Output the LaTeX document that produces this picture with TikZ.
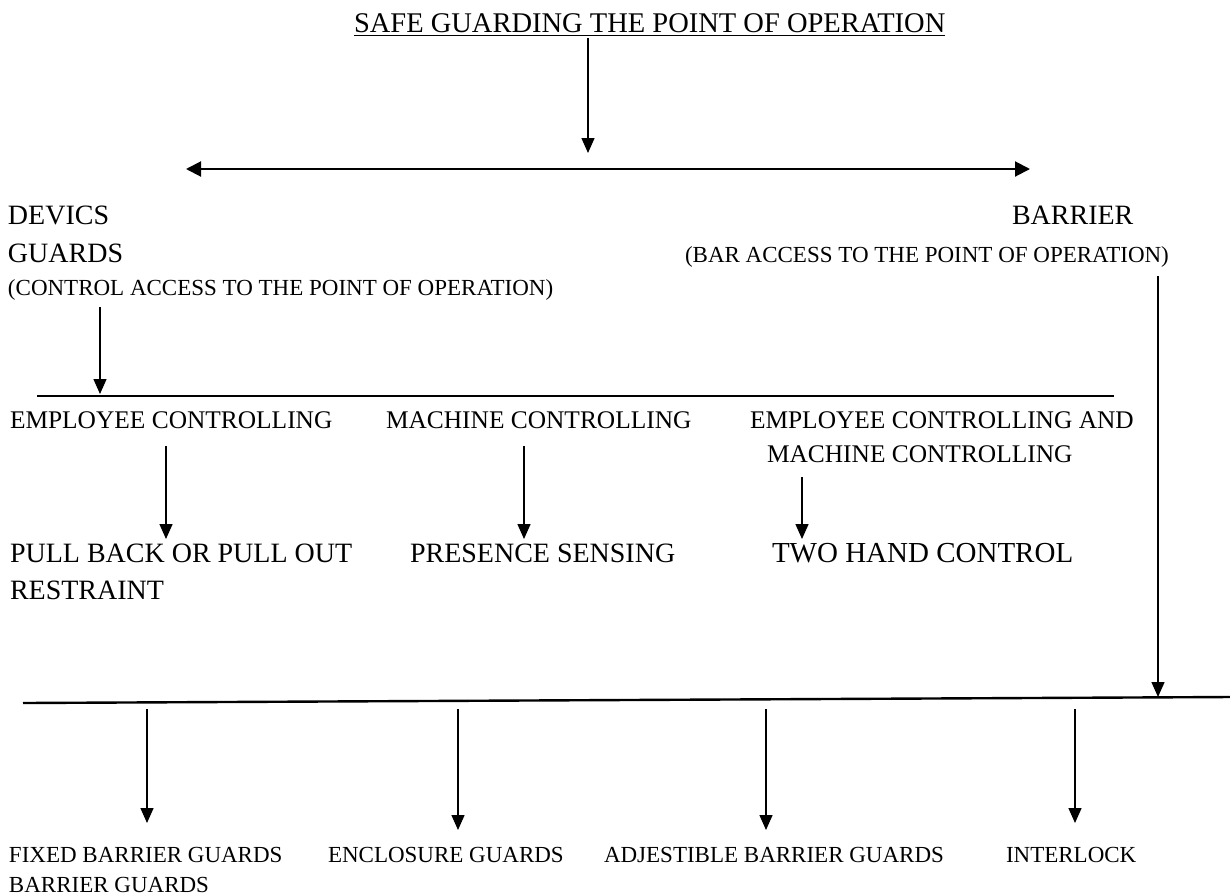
\documentclass[tikz,border=0pt]{standalone}
\usepackage{fontspec}
\setmainfont{Liberation Serif}
\usetikzlibrary{arrows.meta}
\newcommand{\fsz}[1]{\fontsize{#1}{#1}\selectfont}
\tikzset{
  lbl/.style={anchor=base west, inner sep=0pt, outer sep=0pt},
  big/.style={lbl, font=\fsz{28}},
  mid/.style={lbl, font=\fsz{25.4}},
  small/.style={lbl, font=\fsz{23}},
  arr/.style={line width=1.4pt, -{Triangle[length=15pt,width=13pt]}},
  bar/.style={line width=2pt},
}
\begin{document}
\begin{tikzpicture}[x=1pt,y=-1pt]
\useasboundingbox (0,0) rectangle (1230,895);
% title
\node[lbl, font=\fsz{28.5}] (title) at (354,32) {SAFE GUARDING THE POINT OF OPERATION};
\draw[line width=1.3pt] ([yshift=-3.5pt]title.base west) -- ([yshift=-3.5pt]title.base east);
\coordinate (t1) at (588,38);
\coordinate (t2) at (588,153);
\draw[arr] (t1) -- (t2);
\coordinate (h1) at (186,169);
\coordinate (h2) at (1030,169);
\draw[line width=2pt, {Triangle[length=15pt,width=15pt]}-{Triangle[length=15pt,width=15pt]}] (h1) -- (h2);
% second level
\node[big] (devics) at (8,224) {DEVICS};
\node[big] (guards) at (8,262) {GUARDS};
\node[small] (ctrl) at (8,295) {(CONTROL ACCESS TO THE POINT OF OPERATION)};
\node[big] (barrier) at (1012,224) {BARRIER};
\node[small] (baracc) at (685,262) {(BAR ACCESS TO THE POINT OF OPERATION)};
\coordinate (a1s) at (100,307);
\coordinate (a1e) at (100,394);
\draw[arr] (a1s) -- (a1e);
\coordinate (l1a) at (37,396);
\coordinate (l1b) at (1114,396);
\draw[bar] (l1a) -- (l1b);
\coordinate (v1s) at (1158,276);
\coordinate (v1e) at (1158,697);
\draw[arr] (v1s) -- (v1e);
% third level
\node[mid] (emp1) at (10,428) {EMPLOYEE CONTROLLING};
\node[mid] (mach1) at (386,428) {MACHINE CONTROLLING};
\node[mid] (emp2) at (750,428) {EMPLOYEE CONTROLLING AND};
\node[mid] (mach2) at (767,462) {MACHINE CONTROLLING};
\coordinate (p1s) at (166,446);
\coordinate (p1e) at (166,539);
\coordinate (p2s) at (524,446);
\coordinate (p2e) at (524,539);
\coordinate (p3s) at (802,477);
\coordinate (p3e) at (802,539);
\draw[arr] (p1s) -- (p1e);
\draw[arr] (p2s) -- (p2e);
\draw[arr] (p3s) -- (p3e);
\node[big] (pull) at (10,562) {PULL BACK OR PULL OUT};
\node[big] (restr) at (10,599) {RESTRAINT};
\node[big] (pres) at (410,562) {PRESENCE SENSING};
\node[lbl, font=\fsz{29}] (two) at (772,562) {TWO HAND CONTROL};
% bottom level
\coordinate (b1) at (23,703);
\coordinate (b2) at (1230,697);
\draw[line width=2.4pt] (b1) -- (b2);
\coordinate (q1s) at (147,709);
\coordinate (q1e) at (147,823);
\coordinate (q2s) at (458,709);
\coordinate (q2e) at (458,830);
\coordinate (q3s) at (766,709);
\coordinate (q3e) at (766,830);
\coordinate (q4s) at (1075,709);
\coordinate (q4e) at (1075,823);
\draw[arr] (q1s) -- (q1e);
\draw[arr] (q2s) -- (q2e);
\draw[arr] (q3s) -- (q3e);
\draw[arr] (q4s) -- (q4e);
\node[small] (fixed) at (9,862) {FIXED BARRIER GUARDS};
\node[small] (barg) at (9,892) {BARRIER GUARDS};
\node[small] (encl) at (328,862) {ENCLOSURE GUARDS};
\node[small] (adj) at (604,862) {ADJESTIBLE BARRIER GUARDS};
\node[small] (inter) at (1006,862) {INTERLOCK};
\end{tikzpicture}
\end{document}
